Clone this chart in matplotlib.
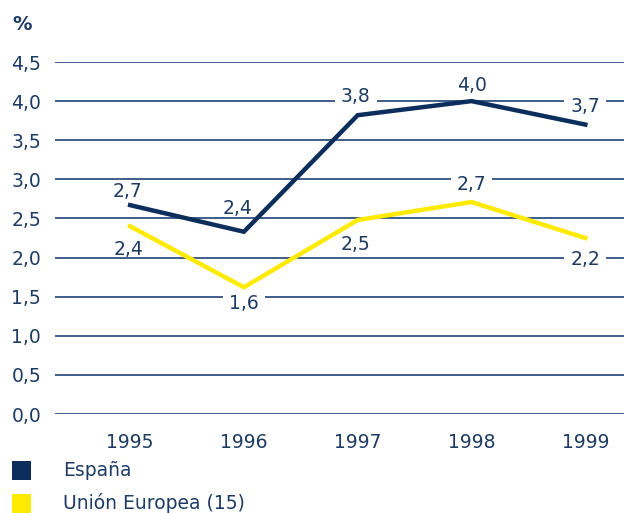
import matplotlib
matplotlib.use("Agg")
import matplotlib.pyplot as plt
from matplotlib.patches import Rectangle

plt.rcParams['font.family'] = ['DejaVu Sans']

years = ['1995', '1996', '1997', '1998', '1999']
espana = [2.67, 2.33, 3.82, 4.0, 3.70]
ue15 = [2.40, 1.62, 2.48, 2.71, 2.25]
espana_labels = ['2,7', '2,4', '3,8', '4,0', '3,7']
ue15_labels = ['2,4', '1,6', '2,5', '2,7', '2,2']
series_names = ['España', 'Unión Europea (15)']
yticks = [0.0, 0.5, 1.0, 1.5, 2.0, 2.5, 3.0, 3.5, 4.0, 4.5]

navy = '#0c2e5c'
yellow = '#ffea00'
txt = '#1d3b64'
grid = '#2f5080'
fs = 13.5
W, H = 624, 513

# desplazamiento de etiquetas en pixeles (dx, dy) al centro del texto
esp_off = [(-3, 15), (-6, 25), (-2, 20), (0, 17), (0, 20)]
ue_off = [(-2, -22), (0, -15), (-2, -23), (0, 19), (0, -20)]

fig = plt.figure(figsize=(W / 100, H / 100), dpi=100)
ax = fig.add_axes([55 / W, 99 / H, 569 / W, 352 / H])
x = list(range(len(years)))

for t in yticks:
    ax.axhline(t, color=grid, lw=1.3, zorder=1)

ax.plot(x, espana, color=navy, lw=3.2, zorder=4, solid_joinstyle='miter')
ax.plot(x, ue15, color=yellow, lw=3.2, zorder=4, solid_joinstyle='miter')

ax.set_xlim(-0.66, 4.34)
ax.set_ylim(0, 4.5)
ax.set_xticks(x)
ax.set_xticklabels(years, fontsize=fs, color=txt)
ax.set_yticks(yticks)
ax.set_yticklabels([f'{t:.1f}'.replace('.', ',') for t in yticks], fontsize=fs, color=txt)
ax.tick_params(length=0, axis='x', pad=14)
ax.tick_params(length=0, axis='y', pad=10)
for s in ax.spines.values():
    s.set_visible(False)

anns = []
for ys, labs, offs in [(espana, espana_labels, esp_off), (ue15, ue15_labels, ue_off)]:
    for xi, yi, lab, (dx, dy) in zip(x, ys, labs, offs):
        a = ax.annotate(lab, (xi, yi), xytext=(dx * 0.72, (dy - 7) * 0.72), textcoords='offset points',
                        ha='center', va='baseline', fontsize=fs, color=txt, zorder=3)
        anns.append((a, xi, yi, dy - 7))

# fondo blanco solo a la altura de las cifras, para cortar la rejilla
fig.canvas.draw()
for a, xi, yi, dyb in anns:
    bb = a.get_window_extent()
    base = ax.transData.transform((xi, yi))[1] + dyb
    ax.add_patch(Rectangle(((bb.x0 - 6) / W, (base - 1) / H), (bb.width + 12) / W, 17 / H,
                           transform=fig.transFigure, fc='white', ec='none', zorder=2, clip_on=False))

fig.text(12 / W, 1 - 24 / H, '%', fontsize=14, fontweight='bold', color=txt, va='center')

# leyenda
for i, (name, col) in enumerate(zip(series_names, [navy, yellow])):
    yc = 470 + i * 33
    fig.patches.append(Rectangle((12 / W, 1 - (yc + 10) / H), 19 / W, 19 / H,
                                 transform=fig.transFigure, fc=col, ec='none'))
    fig.text(63 / W, 1 - yc / H, name, fontsize=fs, color=txt, va='center')

fig.savefig('out.png', dpi=100)
